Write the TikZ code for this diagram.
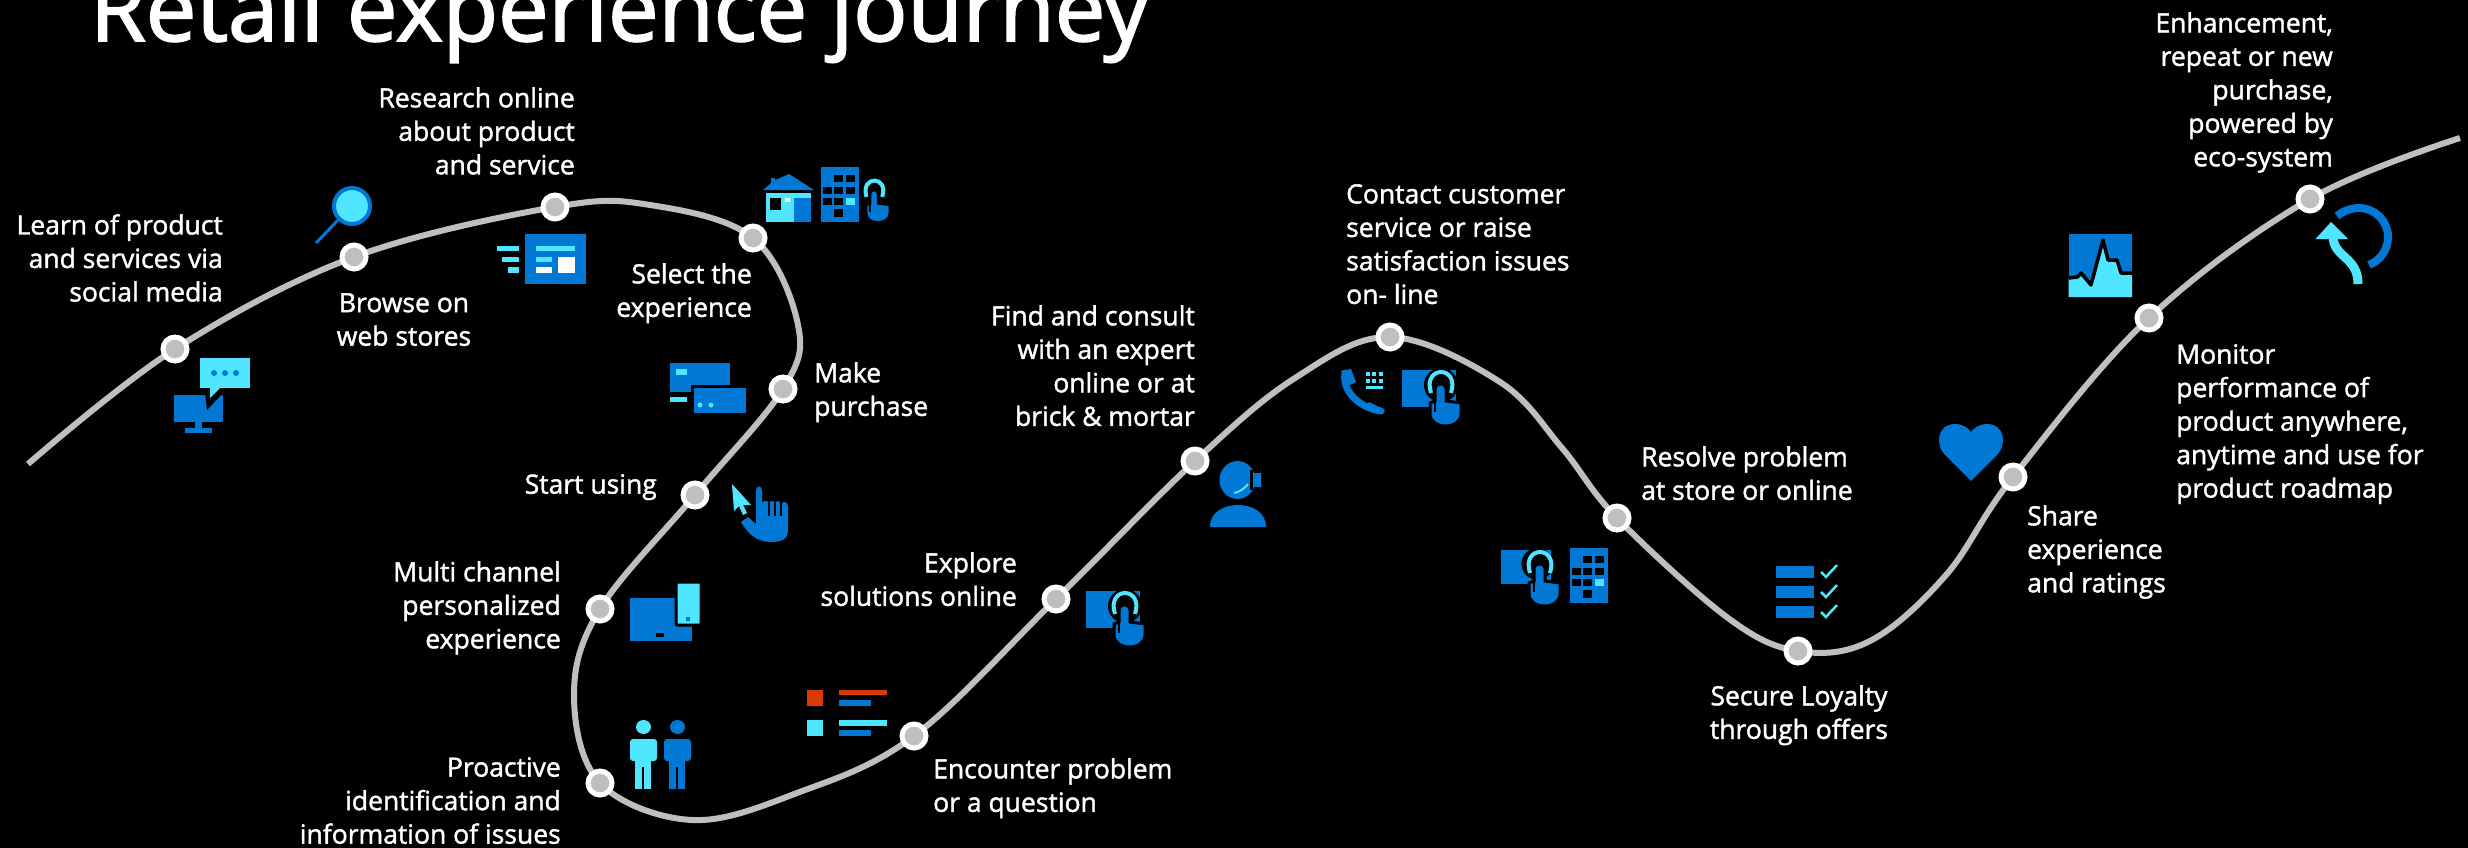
\documentclass[tikz,border=0pt]{standalone}
\usepackage{fontspec}
\usetikzlibrary{positioning, backgrounds}
\setmainfont{Open Sans}
\newfontfamily\stopfont[FakeBold=1.5]{Open Sans}
\newfontfamily\titlefont[FakeBold=2]{Open Sans}
\definecolor{azure}{HTML}{0078D4}
\definecolor{sky}{HTML}{50E6FF}
\definecolor{brick}{HTML}{D83B01}
\definecolor{rail}{HTML}{BFBFBF}
\tikzset{
x=1pt, y=-1pt, % reference pixels, y going down
stopdot/.style={circle, draw=white, fill=rail, line width=5pt, minimum size=24pt, inner sep=0pt}, % the stops on the curve
stoptext/.style={text=white, inner sep=0pt, font=\stopfont\fontsize{26.5}{33.5}\selectfont},
rightside/.style={stoptext, align=right, anchor=north east},
leftside/.style={stoptext, align=left, anchor=north west},
midside/.style={stoptext, align=center, anchor=north},
rail line/.style={draw=rail, line width=6pt},
% ring and hand, seen on their own beside the building
tap/.pic={
  \draw[sky, line width=4pt] (29,23) .. controls (20,-5) and (58,-5) .. (49,23);
  \draw[black, fill=azure, line width=3pt] (33,19) .. controls (33,12) and (44,12) .. (44,19)
    -- (44,31) -- (59,33) -- (59,44) .. controls (59,60) and (28,60) .. (28,44) -- (28,33) -- (33,31) -- cycle;
  \draw[black, line width=1.5pt] (33,31) -- (33,42);
},
% ring and hand over a screen
screentap/.pic={
  \fill[azure] (0,0) rectangle (54,37);
  \fill[black] (39,15) circle (17);
  \pic {tap};
},
building/.pic={
  \fill[azure] (0,0) rectangle (38,55);
  \foreach \wx/\wy in {13/8, 25/8, 2/20, 13/20, 25/20, 2/31, 13/31}
    \fill[black] (\wx,\wy) rectangle +(9,7);
  \fill[sky] (25,31) rectangle +(9,7);
  \fill[black] (13,42) rectangle +(9,8);
},
person/.pic={
  \fill (13.5,0) ellipse (7.5 and 7);
  \fill[rounded corners=3pt] (0,12) rectangle (27,34);
  \fill (5,30) rectangle (12,62);
  \fill (14,30) rectangle (21,62);
  \fill (5,30) rectangle (21,40);
},
}

\begin{document}
\begin{tikzpicture}
  \useasboundingbox (0,0) rectangle (2468,848);

  \node[text=white, inner sep=0pt, anchor=base west, font=\titlefont\fontsize{90}{100}\selectfont] (title) at (90,41) {Retail experience journey};

  % the stops
  \coordinate (railstart) at (28,464);
  \node[stopdot] (learn) at (175,349) {};
  \node[stopdot] (browse) at (354,257) {};
  \node[stopdot] (research) at (555,207) {};
  \node[stopdot] (select) at (753,238) {};
  \node[stopdot] (purchase) at (783,389) {};
  \node[stopdot] (using) at (695,495) {};
  \node[stopdot] (multi) at (600,609) {};
  \node[stopdot] (proactive) at (600,783) {};
  \node[stopdot] (encounter) at (914,736) {};
  \node[stopdot] (explore) at (1056,599) {};
  \node[stopdot] (consult) at (1195,461) {};
  \node[stopdot] (contact) at (1390,337) {};
  \node[stopdot] (resolve) at (1617,518) {};
  \node[stopdot] (loyalty) at (1798,651) {};
  \node[stopdot] (share) at (2013,477) {};
  \node[stopdot] (monitor) at (2149,318) {};
  \node[stopdot] (enhance) at (2310,199) {};
  \coordinate (railend) at (2460,138);

  \begin{scope}[on background layer]
    \fill[black] (0,0) rectangle (2468,848);
    \draw[rail line] plot[smooth, tension=.6] coordinates {(railstart) (learn) (browse) (research)
      (650,205) (select) (798,325) (purchase) (using) (multi) (574,695) (proactive)
      (692,820) (797,793) (encounter) (explore) (consult) (1295,378) (contact) (1500,382) (1562,448)
      (resolve) (1728,618) (loyalty) (1870,641) (1946,575) (share) (monitor) (enhance) (railend)};
  \end{scope}

  % the texts
  \node[rightside] (learntext) at (223,214) {Learn of product\\and services via\\social media};
  \node[midside] (browsetext) at (404,293) {Browse on\\web stores};
  \node[rightside] (researchtext) at (575,87) {Research online\\about product\\and service};
  \node[rightside] (selecttext) at (752,263) {Select the\\experience};
  \node[leftside] (purchasetext) at (814,362) {Make\\purchase};
  \node[rightside] (usingtext) at (657,474) {Start using};
  \node[rightside] (multitext) at (561,561) {Multi channel\\personalized\\experience};
  \node[rightside] (proactivetext) at (561,757) {Proactive\\identification and\\information of issues};
  \node[leftside] (encountertext) at (933,758) {Encounter problem\\or a question};
  \node[rightside] (exploretext) at (1017,552) {Explore\\solutions online};
  \node[rightside] (consulttext) at (1195,305) {Find and consult\\with an expert\\online or at\\brick \& mortar};
  \node[leftside] (contacttext) at (1346,184) {Contact customer\\service or raise\\satisfaction issues\\on- line};
  \node[leftside] (resolvetext) at (1641,446) {Resolve problem\\at store or online};
  \node[midside] (loyaltytext) at (1799,685) {Secure Loyalty\\through offers};
  \node[leftside] (sharetext) at (2027,505) {Share\\experience\\and ratings};
  \node[leftside] (monitortext) at (2176,344) {Monitor\\performance of\\product anywhere,\\anytime and use for\\product roadmap};
  \node[rightside] (enhancetext) at (2333,12) {Enhancement,\\repeat or new\\purchase,\\powered by\\eco-system};

  % chat bubble and monitor
  \fill[azure] (173.5,395) rectangle (223,422);
  \fill[azure] (195,422) rectangle (202,429);
  \fill[azure] (185,428) rectangle (212,433);
  \fill[black] (205,393) -- (207,410) -- (223,393) -- cycle;
  \fill[sky] (200,358) rectangle (250,388);
  \fill[sky] (210,388) -- (210,398) -- (220,388) -- cycle;
  \foreach \dotx in {214,225,236}
    \fill[azure] (\dotx,373) circle (3);

  % magnifier
  \draw[azure, line width=3pt] (338,220) -- (316,243);
  \draw[azure, fill=sky, line width=4pt] (352,206) circle (18);

  % web page
  \fill[azure] (525,234) rectangle (586,284);
  \fill[sky] (536,246) rectangle (575,251);
  \fill[sky] (536,257) rectangle (552,262);
  \fill[white] (536,267) rectangle (552,273);
  \fill[white] (558,257) rectangle (575,273);
  \fill[sky] (497,246) rectangle (519,251);
  \fill[sky] (502,257) rectangle (519,262);
  \fill[sky] (508,267) rectangle (519,273);

  % store, building and tap
  \fill[azure] (763,190) -- (771,183) -- (771,178) -- (775,178) -- (775,180) -- (789,174) -- (814,190) -- cycle;
  \fill[sky] (766,193) rectangle (811,222);
  \fill[black] (770,198) rectangle (781,210);
  \fill[white] (785,198) rectangle (790,202);
  \fill[azure] (794,198) rectangle (811,222);
  \pic at (821,167) {building};
  \pic[scale=.78] at (844,179) {tap};

  % payment cards
  \fill[azure] (670,363) rectangle (730,392);
  \fill[sky] (676,369) rectangle (687,375);
  \draw[black, fill=azure, line width=3pt] (692,386) rectangle (747,414);
  \fill[sky] (670,397) rectangle (687,402);
  \foreach \dotx in {700,711}
    \fill[sky] (\dotx,405) circle (2.5);

  % cursor and hand
  \fill[sky] (732,484) -- (751,505) -- (743,505) -- (747,513) -- (743,515) -- (739,506) -- (734,511) -- cycle;
  \fill[azure] (741,522) -- (748,517) -- (756,524) -- (756,491) .. controls (756,485) and (762,485) .. (762,491)
    -- (762,504) .. controls (762,500) and (769,500) .. (769,504) .. controls (769,500) and (775,500) .. (775,504)
    .. controls (775,500) and (781,500) .. (781,505) .. controls (781,501) and (788,501) .. (788,506)
    -- (788,530) .. controls (788,540) and (780,542) .. (773,542) .. controls (762,542) and (752,540) .. cycle;
  \foreach \slitx in {769,775,781}
    \draw[black, line width=1.5pt] (\slitx,503) -- (\slitx,516);

  % tablet and phone
  \fill[azure] (630,598) rectangle (692,641);
  \draw[black, fill=sky, line width=3pt, rounded corners=1pt] (676,582) rectangle (701,625);
  \fill[azure] (686,617) rectangle (690,621);
  \fill[black] (656,633) rectangle (664,637);

  % two people
  \pic[sky] at (630,727) {person};
  \pic[azure] at (664,727) {person};

  % issue list
  \fill[brick] (807,690) rectangle (823,706);
  \fill[brick] (839,690) rectangle (887,695);
  \fill[azure] (839,700) rectangle (871,706);
  \fill[sky] (807,720) rectangle (823,736);
  \fill[sky] (839,720) rectangle (887,726);
  \fill[azure] (839,730) rectangle (871,736);

  % screen and tap, three times, and the second building
  \pic at (1086,591) {screentap};
  \pic at (1402,370) {screentap};
  \pic[scale=.93] at (1501,550) {screentap};
  \pic at (1570,547.5) {building};

  % agent with headset
  \fill[azure] (1237.5,480) ellipse (18 and 19);
  \fill[black] (1250,470) rectangle (1253,490);
  \fill[azure] (1253,473) rectangle (1261,487);
  \draw[sky, line width=2pt] (1234,493) .. controls (1240,492) and (1245,488) .. (1248,484);
  \fill[azure] (1210,527) .. controls (1210,512) and (1224,505) .. (1238,505) .. controls (1252,505) and (1266,512) .. (1266,527) -- cycle;

  % telephone and keypad
  \draw[azure, line width=7pt, line cap=round] (1345,373) .. controls (1342,392) and (1360,408) .. (1381,411);
  \fill[azure] (1341,371) -- (1351,369) -- (1356,382) -- (1348,386) -- cycle;
  \fill[azure] (1369,402) -- (1385,410) -- (1380,414) -- (1364,408) -- cycle;
  \foreach \keyx in {1366,1372,1379}
    \foreach \keyy in {372,379}
      \fill[sky] (\keyx,\keyy) rectangle +(4,4);
  \fill[sky] (1366,386) rectangle (1383,389);

  % checked list
  \foreach \rowy in {566,586,606} {
    \fill[azure] (1776,\rowy) rectangle (1814,\rowy+12);
    \draw[sky, line width=2.5pt] (1821,\rowy+6) -- (1826,\rowy+11) -- (1837,\rowy-1);
  }

  % heart
  \fill[azure] (1971,481) -- (1945,455) .. controls (1935,445) and (1937,424) .. (1955,424)
    .. controls (1963,424) and (1968,428) .. (1971,432) .. controls (1974,428) and (1979,424) .. (1987,424)
    .. controls (2005,424) and (2007,445) .. (1997,455) -- cycle;

  % performance chart
  \fill[azure] (2068.5,234) rectangle (2132,297);
  \fill[sky] (2068.5,278) -- (2077.5,277) -- (2081,273) -- (2091,285) -- (2103,240) -- (2108,260) -- (2117,260) -- (2121,273) -- (2132,273) -- (2132,297) -- (2068.5,297) -- cycle;
  \draw[black, line width=3.5pt, line join=round] (2068.5,278) -- (2077.5,277) -- (2081,273) -- (2091,285) -- (2103,240) -- (2108,260) -- (2117,260) -- (2121,273) -- (2132,273);

  % renewal loop
  \draw[azure, line width=8pt] (2337,216) .. controls (2343,211) and (2351,208) .. (2359,208) .. controls (2375,208) and (2388,221) .. (2388,237) .. controls (2388,249) and (2381,260) .. (2369,265);
  \draw[sky, line width=9pt] (2333,236) .. controls (2333,258) and (2358,256) .. (2358,284);
  \fill[sky] (2331,222) -- (2348,239) -- (2315.5,239) -- cycle;
\end{tikzpicture}
\end{document}
